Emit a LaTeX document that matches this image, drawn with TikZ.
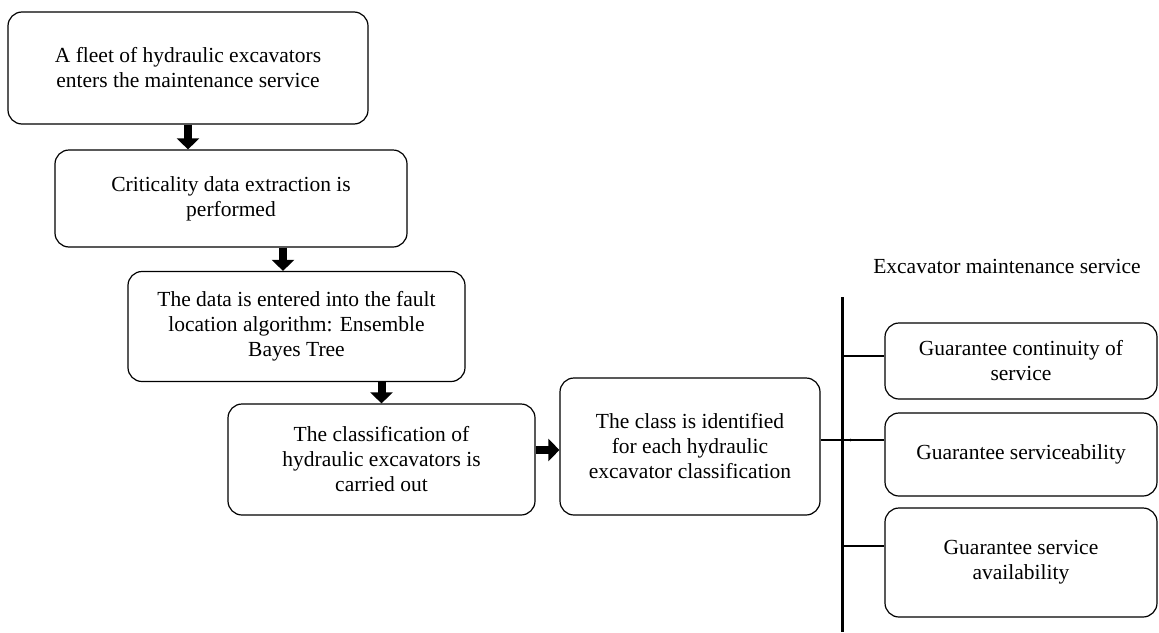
\documentclass[tikz,border=0pt]{standalone}
\usepackage{fontspec}
\setmainfont{Liberation Serif}
\usepackage{tikz}
\usetikzlibrary{arrows.meta}

\begin{document}
\begin{tikzpicture}[
  x=1pt,y=-1pt,
  box/.style={draw,line width=1.2pt,rounded corners=14pt,align=center,font=\fontsize{21.5}{25}\selectfont,inner sep=4pt},
  blk/.style={line width=8pt,-{Triangle[width=22pt,length=11pt]}},
  lnk/.style={line width=1.2pt},
  >=Latex]
  \useasboundingbox (0,0) rectangle (1159,632);
  \node (fleet) [box,minimum width=360,minimum height=112] at (188,68) {A fleet of hydraulic excavators\\enters the maintenance service};
  \node (crit) [box,minimum width=352,minimum height=97] at (231,198.5) {Criticality data extraction is\\performed};
  \node (algo) [box,minimum width=337,minimum height=110] at (296.5,326.5) {The data is entered into the fault\\location algorithm: Ensemble\\Bayes Tree};
  \node (clsf) [box,minimum width=307,minimum height=111] at (381.5,459.5) {The classification of\\hydraulic excavators is\\carried out};
  \node (ident) [box,minimum width=260,minimum height=137] at (690,446.5) {The class is identified\\for each hydraulic\\excavator classification};
  \node (title) [font=\fontsize{21.5}{25}\selectfont] at (1007,266) {Excavator maintenance service};
  \node (gcont) [box,minimum width=272,minimum height=76] at (1021,361) {Guarantee continuity of\\service};
  \node (gserv) [box,minimum width=272,minimum height=83] at (1021,454.5) {Guarantee serviceability};
  \node (gavail) [box,minimum width=272,minimum height=109] at (1021,562.5) {Guarantee service\\availability};
  % flow arrows
  \draw[blk] (fleet.south) -- (fleet.south |- crit.north);
  \draw[blk] (crit.south -| 283,0) -- (algo.north -| 283,0);
  \draw[blk] (algo.south -| clsf.north) -- (clsf.north);
  \draw[blk] (clsf.east |- 0,450) -- (ident.west |- 0,450);
  % service spine
  \coordinate (top) at (842,297);
  \coordinate (bot) at (842,632);
  \draw[line width=3pt] (top) -- (bot);
  \draw[lnk] (ident.east |- 0,440) -- (gserv.west |- 0,440);
  \draw[lnk,-{Latex[length=5pt,width=3pt]}] (top |- 0,440) -- (855,440);
  \draw[lnk] (top |- 0,356) -- (gcont.west |- 0,356);
  \draw[lnk] (top |- 0,546) -- (gavail.west |- 0,546);
\end{tikzpicture}
\end{document}
